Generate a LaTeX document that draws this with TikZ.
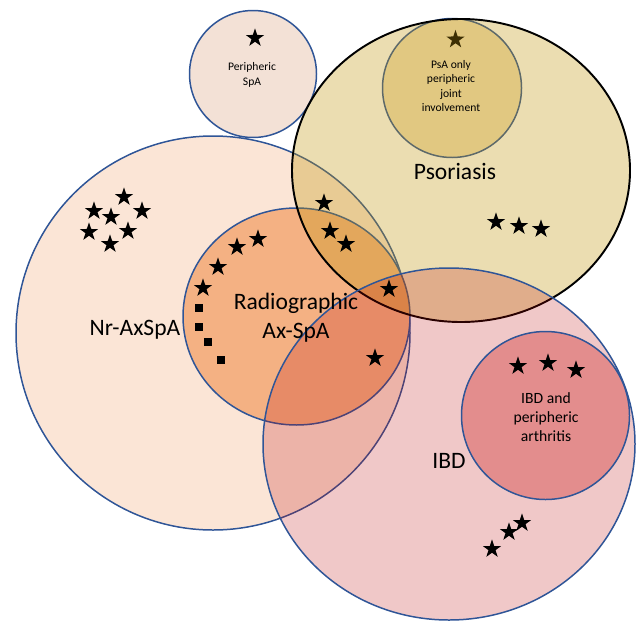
\documentclass[tikz,border=0pt]{standalone}
\usepackage{fontspec}
\setmainfont{Carlito}
\usetikzlibrary{shapes.geometric}
\definecolor{ringblue}{HTML}{2F5597}
\definecolor{perfill}{HTML}{F3E1D6}
\definecolor{nrfill}{HTML}{FBE5D6}
\definecolor{radfill}{HTML}{F4B183}
\definecolor{psafill}{HTML}{F2E1BA}
\definecolor{psofill}{HTML}{C0950B}
\definecolor{ibdfill}{HTML}{BB0505}
\definecolor{ibdpfill}{HTML}{E38D8D}
\tikzset{
  ring/.style={draw=ringblue, line width=0.85pt},
  starpt/.style={star, star points=5, star point ratio=2.6, fill=black, minimum size=11pt, inner sep=0pt},
  squarept/.style={rectangle, fill=black, minimum size=4.6pt, inner sep=0pt},
  biglbl/.style={align=center, font=\fontsize{13.4}{16.6}\selectfont},
  midlbl/.style={align=center, font=\fontsize{8.9}{11}\selectfont},
  smalllbl/.style={align=center, font=\fontsize{6.6}{8.2}\selectfont},
}

\begin{document}
\begin{tikzpicture}[x=0.02cm, y=-0.02cm]
\useasboundingbox (0,0) rectangle (638,622);
\draw[ring, fill=perfill] (253,74) circle [radius=63.5];
\node[starpt] (s0) at (255,38) {};
\draw[ring, fill=nrfill] (213,333) circle [radius=197];
\draw[ring, fill=radfill] (296.5,316.5) ellipse [x radius=113.5, y radius=108.5];
\draw[ring, fill=psafill] (452,88) circle [radius=69.5];
\node[starpt] (s1) at (455.5,39.5) {};
\draw[line width=1.1pt, fill=psofill, fill opacity=0.32] (461,170.5) ellipse [x radius=169, y radius=151.5];
\draw[ring, fill=ibdfill, fill opacity=0.22] (449,444) ellipse [x radius=186, y radius=176];
\draw[ring, fill=ibdpfill] (545.5,415.5) circle [radius=84];
\foreach \x/\y [count=\i] in {124/197, 94/211, 111/217, 142/211, 89/232, 128/231, 110/244}
  \node[starpt] (n\i) at (\x,\y) {};
\foreach \x/\y [count=\i] in {258/239, 237/247, 218/267, 203/288, 324/203, 330/231, 346/244, 389/289, 375/358}
  \node[starpt] (r\i) at (\x,\y) {};
\foreach \x/\y [count=\i] in {199/308, 199/327, 208/342, 221/360}
  \node[squarept] (q\i) at (\x,\y) {};
\foreach \x/\y [count=\i] in {496/222, 519/226, 541/229}
  \node[starpt] (p\i) at (\x,\y) {};
\foreach \x/\y [count=\i] in {518/366, 548/363, 576/370, 492/549, 509/532, 522/523}
  \node[starpt] (b\i) at (\x,\y) {};
\node[smalllbl] (per) at (252,75) {Peripheric\\SpA};
\node[smalllbl] (psa) at (451,86) {PsA only\\peripheric\\joint\\involvement};
\node[biglbl] (pso) at (455,171) {Psoriasis};
\node[biglbl] (nr) at (135,330) {Nr-AxSpA};
\node[biglbl] (rad) at (296,318) {Radiographic\\Ax-SpA};
\node[biglbl] (ibd) at (449,461) {IBD};
\node[midlbl] (ibdp) at (546,417) {IBD and\\peripheric\\arthritis};
\end{tikzpicture}
\end{document}
